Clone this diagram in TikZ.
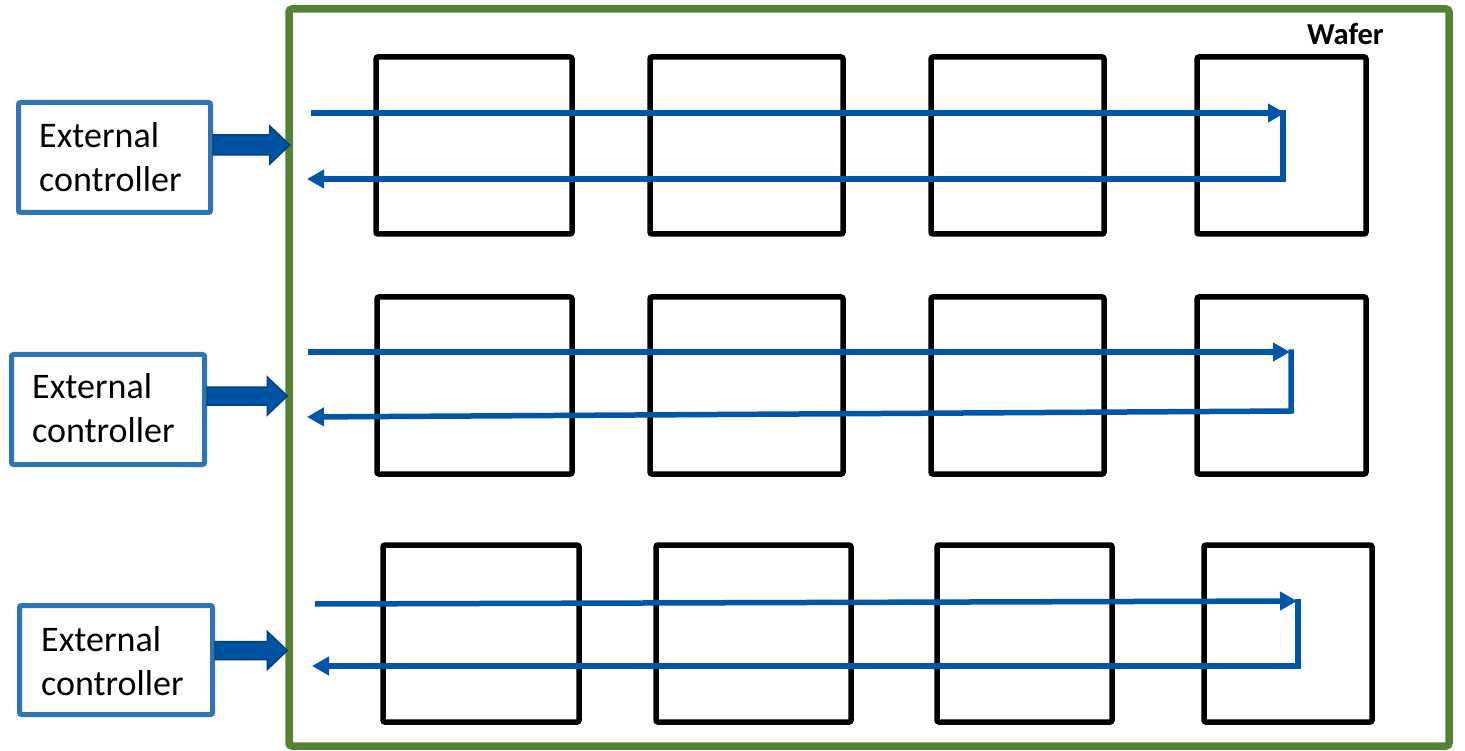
\documentclass[tikz,border=0pt]{standalone}
\usepackage{fontspec}
\setmainfont{Carlito}
\usetikzlibrary{arrows.meta,calc,fit}
\definecolor{wgreen}{HTML}{548235}
\definecolor{flow}{HTML}{0056A6}
\definecolor{ctrl}{HTML}{2E75B6}
\definecolor{bafill}{HTML}{0053A2}
\definecolor{baedge}{HTML}{003F7F}
\newcommand\mkbarrow[4]{% start, tip, shaft half, head half
  \draw[blk] ($(#1)+(0,-#3)$) -- ($(#2)+(-20,-#3)$) -- ($(#2)+(-20,-#4)$) -- (#2)
    -- ($(#2)+(-20,#4)$) -- ($(#2)+(-20,#3)$) -- ($(#1)+(0,#3)$) -- cycle;}
\begin{document}
\begin{tikzpicture}[x=1pt,y=-1pt,
  chip/.style={draw=black,line width=5.5pt,rounded corners=2pt,inner sep=0pt},
  ctrlbox/.style={draw=ctrl,line width=5pt,rounded corners=2pt,inner sep=0pt},
  waferbox/.style={draw=wgreen,line width=7.5pt,rounded corners=3pt,inner sep=0pt},
  ctext/.style={anchor=base west,inner sep=0pt,align=left,font=\fontsize{36}{44}\selectfont},
  flowline/.style={draw=flow,line width=5.5pt,line join=miter,-{Triangle[length=17pt,width=18pt]}},
  blk/.style={draw=baedge,fill=bafill,line width=1.5pt,line join=miter}]
\useasboundingbox (0,0) rectangle (1465,751);
% wafer
\node[waferbox,fit={(289,9) (1449,746)}] (wafer) {};
\node[anchor=base east,inner sep=0pt,font=\fontsize{30.5}{34}\selectfont\bfseries] (wlabel) at (1384,45) {Wafer};
% chips row 1
\node[chip,fit={(376,57) (572,234)}] (a1) {};
\node[chip,fit={(650,57) (843,234)}] (a2) {};
\node[chip,fit={(931,57) (1104,234)}] (a3) {};
\node[chip,fit={(1197,57) (1366,234)}] (a4) {};
% row 2
\node[chip,fit={(377,297) (572,474)}] (b1) {};
\node[chip,fit={(650,297) (843,474)}] (b2) {};
\node[chip,fit={(931,297) (1104,474)}] (b3) {};
\node[chip,fit={(1197,297) (1366,474)}] (b4) {};
% row 3
\node[chip,fit={(383,545) (579,722)}] (c1) {};
\node[chip,fit={(656,545) (851,722)}] (c2) {};
\node[chip,fit={(937,545) (1112,722)}] (c3) {};
\node[chip,fit={(1204,545) (1372,722)}] (c4) {};
% controllers
\node[ctrlbox,fit={(18.5,102.5) (210.5,212.5)}] (ec1) {};
\node[ctrlbox,fit={(11.5,354.5) (204.5,464.5)}] (ec2) {};
\node[ctrlbox,fit={(19.5,605.5) (212.5,714.5)}] (ec3) {};
\node[ctext] (ec1t) at (39,192) {External\\controller};
\node[ctext] (ec2t) at (32,442) {External\\controller};
\node[ctext] (ec3t) at (41,695) {External\\controller};
% block arrows
\coordinate (y1) at (0,145);
\coordinate (y2) at (0,396);
\coordinate (y3) at (0,650.5);
\coordinate (s1) at (ec1.east |- y1);
\coordinate (t1) at ($(wafer.west |- y1)+(4.5,0)$);
\coordinate (s2) at (ec2.east |- y2);
\coordinate (t2) at ($(wafer.west |- y2)+(2,0)$);
\coordinate (s3) at (ec3.east |- y3);
\coordinate (t3) at ($(wafer.west |- y3)+(2,0)$);
\mkbarrow{s1}{t1}{10}{19}
\mkbarrow{s2}{t2}{9}{19}
\mkbarrow{s3}{t3}{9}{19}
% flow lines row 1
\coordinate (p1a) at (311,113);
\coordinate (p1b) at (1285,113);
\coordinate (p1c) at (1283,110.5);
\coordinate (p1d) at (1283,179);
\coordinate (p1e) at (307,179);
\draw[flowline] (p1a) -- (p1b);
\draw[flowline] (p1c) -- (p1d) -- (p1e);
% row 2
\coordinate (p2a) at (308,352);
\coordinate (p2b) at (1290,352);
\coordinate (p2c) at (1291,349.5);
\coordinate (p2d) at (1291,411);
\coordinate (p2e) at (307,417);
\draw[flowline] (p2a) -- (p2b);
\draw[flowline] (p2c) -- (p2d) -- (p2e);
% row 3
\coordinate (p3a) at (315,604);
\coordinate (p3b) at (1297,601);
\coordinate (p3c) at (1298,598.5);
\coordinate (p3d) at (1298,666);
\coordinate (p3e) at (312,666);
\draw[flowline] (p3a) -- (p3b);
\draw[flowline] (p3c) -- (p3d) -- (p3e);
\end{tikzpicture}
\end{document}
